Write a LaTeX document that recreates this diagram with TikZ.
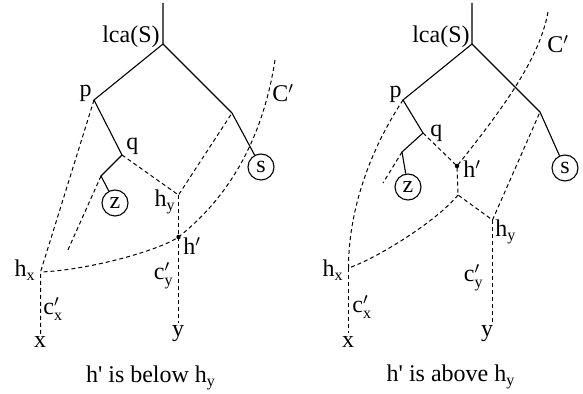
\documentclass[tikz,border=0pt]{standalone}
\usepackage{fontspec}
\setmainfont{Liberation Serif}

\begin{document}
\begin{tikzpicture}[x=0.5pt, y=-0.5pt,
    font=\fontsize{12}{14}\selectfont,
    edge/.style={line width=0.55pt},
    cut/.style={line width=0.5pt, dash pattern=on 2pt off 1.5pt},
    leaf/.style={draw, circle, line width=0.55pt, minimum size=13pt, inner sep=0pt},
    lbl/.style={inner sep=0pt},
    hdot/.style={circle, fill, inner sep=0pt, minimum size=2.2pt}]
  \useasboundingbox (0,0) rectangle (583,394);

  % left: h' is below h_y
  \coordinate (topL) at (163,3);
  \coordinate (lcaL) at (163,44);
  \coordinate (pL) at (94,100);
  \coordinate (rL) at (232,113);
  \coordinate (qL) at (122,155);
  \coordinate (zjL) at (101,176);
  \coordinate (hyL) at (178.5,195);
  \coordinate (hpL) at (178.5,237);
  \coordinate (hxL) at (40.5,272);
  \coordinate (xL) at (40.5,335);
  \coordinate (yL) at (178.5,323);
  \coordinate (cL) at (275,60);
  \coordinate (zeL) at (67,252);
  \node [leaf] (sL) at (261,167) {s};
  \node [leaf] (zL) at (115,203) {z};

  \draw [edge] (topL) -- (lcaL) -- (pL) -- (qL) -- (zjL) -- (zL);
  \draw [edge] (lcaL) -- (rL) -- (sL);
  \draw [cut] (qL) -- (hyL) -- (rL);
  \draw [cut] (hyL) -- (yL);
  \draw [cut] (pL) -- (hxL) -- (xL);
  \draw [cut] (zjL) -- (zeL);
  \draw [cut] (cL) .. controls (265,125) and (238,190) .. (hpL)
    .. controls (160,250) and (90,270) .. (hxL);
  \node [hdot] (hdL) at (hpL) {};

  \node [lbl, anchor=base east] (lcaLtxt) at (160,43) {lca(S)};
  \node [lbl, anchor=base east] (pLtxt) at (92,97) {p};
  \node [lbl, anchor=base west] (qLtxt) at (126,150) {q};
  \node [lbl, anchor=base west] (cLtxt) at (272,102) {C$'$};
  \node [lbl, anchor=base east] (hyLtxt) at (176,207) {h\textsubscript{y}};
  \node [lbl, anchor=base west] (hpLtxt) at (183,255) {h$'$};
  \node [lbl, anchor=base east] (hxLtxt) at (36,277) {h\textsubscript{x}};
  \node [lbl, anchor=base east] (cyLtxt) at (174,280) {c$'_{\mathrm{y}}$};
  \node [lbl, anchor=base west] (cxLtxt) at (43,315) {c$'_{\mathrm{x}}$};
  \node [lbl, anchor=base] (xLtxt) at (40,348) {x};
  \node [lbl, anchor=base] (yLtxt) at (178,337) {y};
  \node [lbl, anchor=base] (capL) at (151,383) {h\textquotesingle{} is below h\textsubscript{y}};

  % right: h' is above h_y
  \coordinate (topR) at (472,3);
  \coordinate (lcaR) at (472,44);
  \coordinate (pR) at (403,100);
  \coordinate (rR) at (540,112);
  \coordinate (qR) at (423,133);
  \coordinate (zjR) at (402,152);
  \coordinate (hpR) at (457,166);
  \coordinate (wR) at (458,195);
  \coordinate (hyR) at (492.5,220);
  \coordinate (hxR) at (348.5,268);
  \coordinate (xR) at (348.5,333);
  \coordinate (yR) at (492.5,325);
  \coordinate (cR) at (548,12);
  \coordinate (zeR) at (383,183);
  \node [leaf] (sR) at (565,168) {s};
  \node [leaf] (zR) at (408,187) {z};

  \draw [edge] (topR) -- (lcaR) -- (pR) -- (qR) -- (zjR) -- (zR);
  \draw [edge] (lcaR) -- (rR) -- (sR);
  \draw [cut] (qR) -- (hpR) -- (wR) -- (hyR) -- (rR);
  \draw [cut] (hyR) -- (yR);
  \draw [cut] (hxR) -- (xR);
  \draw [cut] (pR) .. controls (370,150) and (348.5,210) .. (hxR);
  \draw [cut] (zjR) -- (zeR);
  \draw [cut] (cR) .. controls (540,55) and (510,100) .. (hpR);
  \draw [cut] (wR) .. controls (438,220) and (378,258) .. (hxR);
  \node [hdot] (hdR) at (hpR) {};

  \node [lbl, anchor=base east] (lcaRtxt) at (470,43) {lca(S)};
  \node [lbl, anchor=base east] (pRtxt) at (402,98) {p};
  \node [lbl, anchor=base west] (qRtxt) at (430,137) {q};
  \node [lbl, anchor=base west] (cRtxt) at (547,53) {C$'$};
  \node [lbl, anchor=base west] (hpRtxt) at (463,178) {h$'$};
  \node [lbl, anchor=base west] (hyRtxt) at (495,237) {h\textsubscript{y}};
  \node [lbl, anchor=base east] (hxRtxt) at (344,277) {h\textsubscript{x}};
  \node [lbl, anchor=base east] (cyRtxt) at (484,282) {c$'_{\mathrm{y}}$};
  \node [lbl, anchor=base west] (cxRtxt) at (352,313) {c$'_{\mathrm{x}}$};
  \node [lbl, anchor=base] (xRtxt) at (348,348) {x};
  \node [lbl, anchor=base] (yRtxt) at (487,337) {y};
  \node [lbl, anchor=base] (capR) at (451,382) {h\textquotesingle{} is above h\textsubscript{y}};
\end{tikzpicture}
\end{document}
